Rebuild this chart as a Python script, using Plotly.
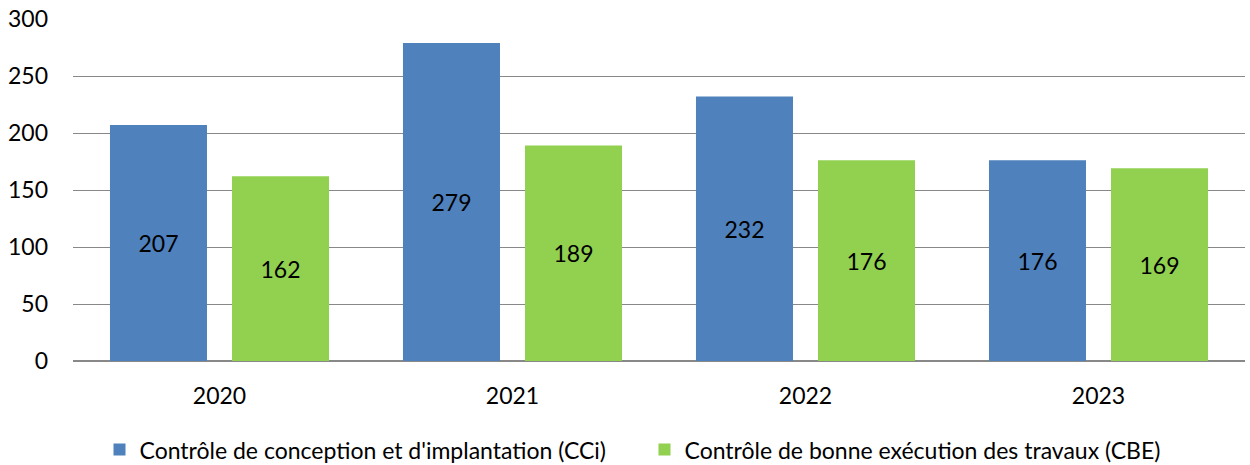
import plotly.graph_objects as go

years = ["2020", "2021", "2022", "2023"]
cci = [207, 279, 232, 176]
cbe = [162, 189, 176, 169]
name_cci = "Contrôle de conception et d'implantation (CCi)"
name_cbe = "Contrôle de bonne exécution des travaux (CBE)"

font_family = "Lato, Open Sans, sans-serif"
fs = 23

fig = go.Figure()
fig.add_trace(go.Bar(x=years, y=cci, name=name_cci, marker=dict(color="#4F81BD", line=dict(width=0)),
                     text=cci, textposition="inside", insidetextanchor="middle",
                     textfont=dict(size=fs, color="black"), textangle=0))
fig.add_trace(go.Bar(x=years, y=cbe, name=name_cbe, marker=dict(color="#92D050", line=dict(width=0)),
                     text=cbe, textposition="inside", insidetextanchor="middle",
                     textfont=dict(size=fs, color="black"), textangle=0))

fig.update_layout(
    width=1250, height=465,
    margin=dict(l=73, r=5, t=19, b=104, autoexpand=False),
    paper_bgcolor="white", plot_bgcolor="white",
    barmode="group", bargap=0.167, bargroupgap=0.205,
    font=dict(family=font_family, size=fs, color="black"),
    uniformtext=dict(mode=False),
    legend=dict(orientation="h", xref="container", x=0.0796, xanchor="left",
                yref="container", y=0.033, yanchor="middle",
                font=dict(size=fs), entrywidth=500, entrywidthmode="pixels",
                tracegroupgap=0),
    xaxis=dict(showgrid=False, ticks="", tickfont=dict(size=fs), showline=False,
               automargin=False, ticklabelstandoff=19),
    yaxis=dict(range=[0, 300], dtick=50, showgrid=True, gridcolor="#888888", gridwidth=1,
               zeroline=True, zerolinecolor="#888888", zerolinewidth=2,
               tickfont=dict(size=fs), ticks="", ticklabelstandoff=24, automargin=False),
)

fig.write_html("out.html", post_script="document.body.style.margin='0';",
               config={"displayModeBar": False})
